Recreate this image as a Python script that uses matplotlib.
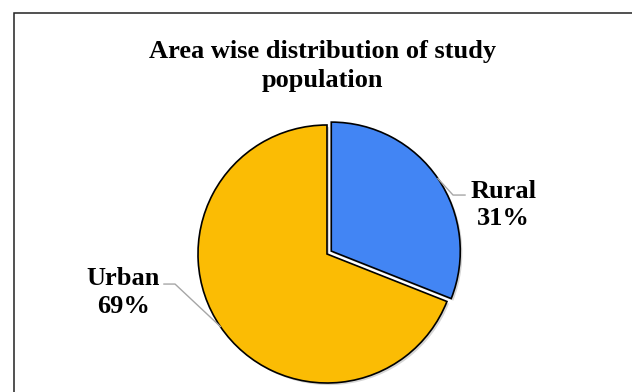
import matplotlib
matplotlib.use("Agg")
import matplotlib.pyplot as plt
import matplotlib.patheffects as pe
import numpy as np

categories = ["Rural", "Urban"]
values = [31, 69]
colors = ["#4285F4", "#FBBC04"]
title = "Area wise distribution of study\npopulation"

plt.rcParams['font.family'] = ['Liberation Serif', 'DejaVu Serif']

W, H = 632, 392
fig = plt.figure(figsize=(W / 100, H / 100), dpi=100)

# outer border
fig.patches.append(plt.Rectangle((13.5 / W, -0.1), 1.2, (392 - 12.5) / H + 0.1,
                                 transform=fig.transFigure, fill=False,
                                 edgecolor="#222222", linewidth=1.1, zorder=0))

R = 129.0
cx, cy = 327.0, 254.0
half = 200.0
ax = fig.add_axes([(cx - half) / W, (H - cy - half) / H, 2 * half / W, 2 * half / H])
lim = half / R
ax.set_xlim(-lim, lim)
ax.set_ylim(-lim, lim)
ax.set_aspect("equal")
ax.axis("off")

explode = [0.04, 0.0]
wedges, _ = ax.pie(values, colors=colors, startangle=90, counterclock=False,
                   explode=explode, radius=1.0,
                   wedgeprops=dict(edgecolor="black", linewidth=1.2))
for w in wedges:
    w.set_path_effects([pe.SimplePatchShadow(offset=(1.5, -1.5), shadow_rgbFace="#888888", alpha=0.35),
                        pe.Normal()])

ax.set_xlim(-lim, lim)
ax.set_ylim(-lim, lim)

# labels with leader lines
total = sum(values)
label_layout = {
    "Rural": dict(elbow=(0.977, 0.457), end=(1.07, 0.457), text=(1.37, 0.38)),
    "Urban": dict(elbow=(-1.178, -0.233), end=(-1.264, -0.233), text=(-1.58, -0.30)),
}
for w, cat, val, ex in zip(wedges, categories, values, explode):
    ang = np.deg2rad((w.theta1 + w.theta2) / 2)
    ox, oy = ex * np.cos(ang), ex * np.sin(ang)
    px, py = ox + np.cos(ang), oy + np.sin(ang)
    lay = label_layout[cat]
    ax.plot([px, lay["elbow"][0], lay["end"][0]], [py, lay["elbow"][1], lay["end"][1]],
            color="#A6A6A6", linewidth=1.0, zorder=5)
    ax.text(lay["text"][0], lay["text"][1], f"{cat}\n{round(val / total * 100)}%",
            ha="center", va="center", fontsize=19, fontweight="bold",
            linespacing=1.25, color="black")

fig.text(322.5 / W, 1 - 66 / H, title, ha="center", va="center", fontsize=19,
         fontweight="bold", linespacing=1.3)

fig.savefig("out.png", dpi=100)
